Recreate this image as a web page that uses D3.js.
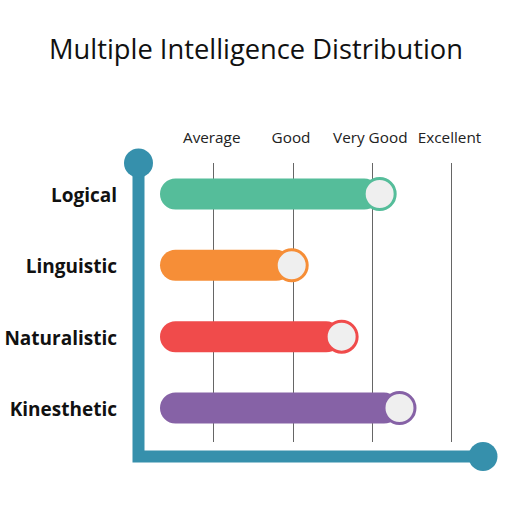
<!DOCTYPE html>
<html><head><meta charset="utf-8">
<script src="https://cdn.jsdelivr.net/npm/d3@7"></script>
<style>body{margin:0;background:#fff}svg{display:block}</style>
</head><body>
<svg id="c" width="512" height="512"></svg>
<script>
const categories = ["Logical", "Linguistic", "Naturalistic", "Kinesthetic"];
const values = [3.1, 1.99, 2.62, 3.35];
const colors = ["#55BD9A", "#F68E37", "#F04B4B", "#8662A6"];
const tickLabels = ["Average", "Good", "Very Good", "Excellent"];
const tickValues = [1, 2, 3, 4];

const svg = d3.select("#c");
const axisColor = "#3690AC";

svg.append("text").attr("x", 256).attr("y", 59).attr("text-anchor", "middle")
  .attr("font-family", "Open Sans, sans-serif").attr("font-size", 27.3).attr("fill", "#111")
  .text("Multiple Intelligence Distribution");

const x = d3.scaleLinear().domain([0, 4]).range([134, 451]);
const y = d3.scalePoint().domain(categories).range([194, 408]);

// grid lines
svg.append("g").selectAll("line").data(tickValues).join("line")
  .attr("x1", d => Math.round(x(d)) + 0.5).attr("x2", d => Math.round(x(d)) + 0.5)
  .attr("y1", 163).attr("y2", 442).attr("stroke", "#666").attr("stroke-width", 1);

// tick labels via axis
const axisTop = d3.axisTop(x).tickValues(tickValues).tickFormat((d, i) => tickLabels[i]).tickSize(0).tickPadding(0);
const gAxis = svg.append("g").attr("transform", "translate(-2,143)").call(axisTop);
gAxis.select(".domain").remove();
gAxis.selectAll("text").attr("font-family", "Open Sans, sans-serif").attr("font-size", 15.3).attr("fill", "#222").attr("dy", 0);

// category labels
svg.append("g").selectAll("text").data(categories).join("text")
  .attr("x", 117).attr("y", d => y(d) + 1.5).attr("dy", "0.35em")
  .attr("text-anchor", "end").attr("font-family", "Open Sans, sans-serif")
  .attr("font-weight", "bold").attr("font-size", 19).attr("fill", "#111")
  .text(d => d);

// L axis
svg.append("path").attr("d", `M138.5,163 V456.5 H483`).attr("fill", "none")
  .attr("stroke", axisColor).attr("stroke-width", 12).attr("stroke-linejoin", "miter");
svg.append("circle").attr("cx", 138.5).attr("cy", 163).attr("r", 14.5).attr("fill", axisColor);
svg.append("circle").attr("cx", 483).attr("cy", 456.5).attr("r", 14.5).attr("fill", axisColor);

// bars
const bh = 31;
const startX = 160;
const g = svg.append("g");
categories.forEach((c, i) => {
  const cy = y(c);
  const cx = x(values[i]);
  g.append("rect").attr("x", startX).attr("y", cy - bh / 2)
    .attr("width", cx - startX).attr("height", bh).attr("rx", bh / 2).attr("fill", colors[i]);
  g.append("circle").attr("cx", cx).attr("cy", cy).attr("r", 15.5)
    .attr("fill", "#EFEFEF").attr("stroke", colors[i]).attr("stroke-width", 3);
});
</script>
</body></html>
